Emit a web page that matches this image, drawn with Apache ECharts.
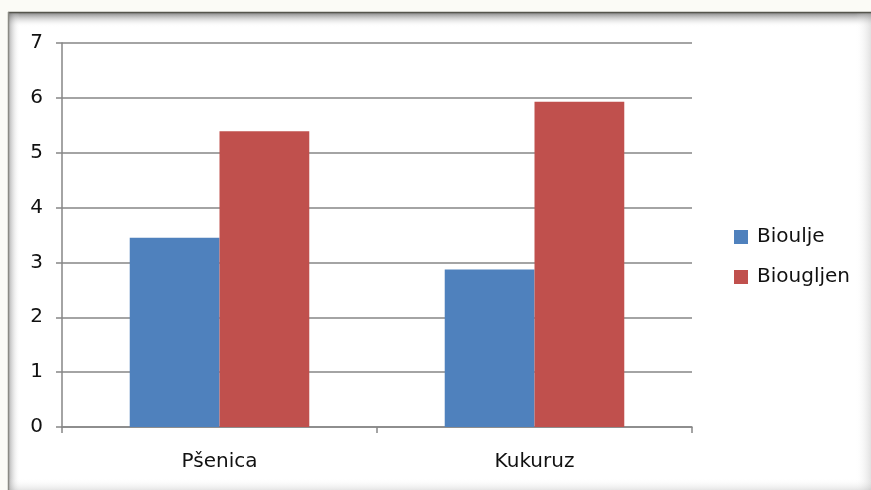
<!DOCTYPE html>
<html>
<head>
<meta charset="utf-8">
<script src="https://cdn.jsdelivr.net/npm/echarts@6/dist/echarts.min.js"></script>
<style>
  html, body { margin: 0; padding: 0; background: #fff; }
  #chart { width: 871px; height: 490px; }
</style>
</head>
<body>
<div id="chart"></div>
<script>
// podaci
var categories = ['Pšenica', 'Kukuruz'];
var seriesNames = ['Bioulje', 'Biougljen'];
var bioulje = [3.45, 2.87];
var biougljen = [5.39, 5.93];
var yTicks = [0, 1, 2, 3, 4, 5, 6, 7];

var chart = echarts.init(document.getElementById('chart'));
var font = 'DejaVu Sans';
function grad(x, y, x2, y2, c) {
  return new echarts.graphic.LinearGradient(x, y, x2, y2, [
    { offset: 0, color: c }, { offset: 1, color: 'rgba(255,255,255,0)' }]);
}
chart.setOption({
  animation: false,
  backgroundColor: '#fbfbf6',
  graphic: [
    // okvir s unutarnjom sjenom
    { type: 'rect', shape: { x: 8, y: 12, width: 863, height: 478 },
      style: { fill: '#ffffff' }, z: -10 },
    { type: 'rect', shape: { x: 8, y: 13, width: 863, height: 14 },
      style: { fill: grad(0, 0, 0, 1, 'rgba(90,90,90,0.7)') }, z: -9 },
    { type: 'rect', shape: { x: 8, y: 13, width: 12, height: 477 },
      style: { fill: grad(0, 0, 1, 0, 'rgba(100,100,100,0.55)') }, z: -9 },
    { type: 'rect', shape: { x: 855, y: 13, width: 16, height: 477 },
      style: { fill: grad(1, 0, 0, 0, 'rgba(170,170,170,0.35)') }, z: -9 },
    { type: 'rect', shape: { x: 8, y: 478, width: 863, height: 12 },
      style: { fill: grad(0, 1, 0, 0, 'rgba(170,170,170,0.3)') }, z: -9 },
    { type: 'line', shape: { x1: 8, y1: 12.5, x2: 871, y2: 12.5 },
      style: { stroke: '#55554d', lineWidth: 1.5 }, z: -8 },
    { type: 'line', shape: { x1: 8.5, y1: 12, x2: 8.5, y2: 490 },
      style: { stroke: '#8a8a84', lineWidth: 1.5 }, z: -8 }
  ],
  grid: { left: 62, right: 179, top: 43, bottom: 63, containLabel: false },
  legend: {
    orient: 'vertical',
    left: 729,
    top: 222,
    itemWidth: 14,
    itemHeight: 14,
    itemGap: 20,
    icon: 'rect',
    textStyle: { fontFamily: font, fontSize: 20, color: '#111', padding: [0, 0, 0, 4] },
    data: seriesNames
  },
  xAxis: {
    type: 'category',
    data: categories,
    axisLine: { lineStyle: { color: '#868686', width: 1.5 } },
    axisTick: { show: true, length: 6, lineStyle: { color: '#868686', width: 1.5 } },
    axisLabel: { fontFamily: font, fontSize: 20, color: '#111', margin: 25 }
  },
  yAxis: {
    type: 'value',
    min: yTicks[0],
    max: yTicks[yTicks.length - 1],
    interval: 1,
    axisLine: { show: true, lineStyle: { color: '#868686', width: 1.5 } },
    axisTick: { show: true, length: 6, lineStyle: { color: '#868686', width: 1.5 } },
    splitLine: { lineStyle: { color: '#868686', width: 1.5 } },
    axisLabel: { fontFamily: font, fontSize: 20, color: '#111', margin: 19 }
  },
  series: [
    { name: seriesNames[0], type: 'bar', data: bioulje, barGap: '0%', barCategoryGap: '43%',
      itemStyle: { color: '#4F81BD' } },
    { name: seriesNames[1], type: 'bar', data: biougljen, barGap: '0%', barCategoryGap: '43%',
      itemStyle: { color: '#C0504D' } }
  ]
});
</script>
</body>
</html>
